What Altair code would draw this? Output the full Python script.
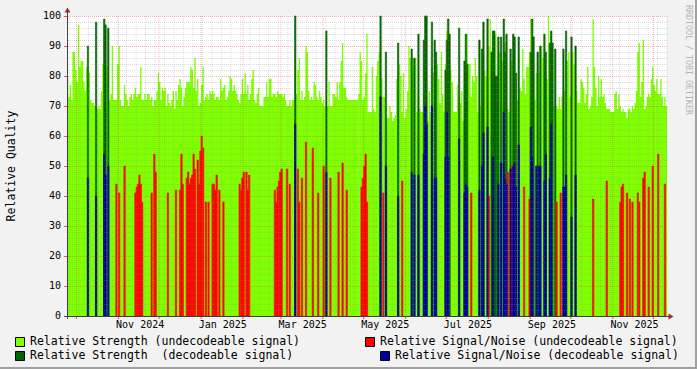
import altair as alt
import pandas as pd
import numpy as np

# ---------------- data (one value per day, first day = start_date) ----------------
start_date = "2024-09-24"
n_days = 443

strength_undec = [
    80,73,77,72,88,88,82,78,97,83, 85,85,78,75,83,83,81,72,71,71,
    70,70,69,70,69,75,84,97,78,83, 96,72,74,90,72,72,72,84,90,72,
    70,70,77,74,72,70,73,74,72,74, 76,73,74,74,83,72,72,74,72,74,
    74,72,73,70,72,72,75,81,78,72, 76,75,
    76,70,74,71,70,72,75,69,75,72, 77,79,76,70,73,76,78,78,78,83,
    82,76,86,75,79,70,71,77,83,72, 73,74,72,75,74,75,74,72,73,73,
    72,79,75,76,77,72,73,75,80,79, 75,77,75,74,72,71,74,79,74,81,
    74,77,72,74,79,82,72,71,74,76, 70,70,70,73,
    73,78,73,79,79,73,74,74,73,75, 74,74,74,73,74,72,70,70,72,70,
    72,72,86,74,82,86,72,75,72,73, 90,88,75,72,73,72,78,77,73,72,
    75,73,71,72,70,70,70,78,70,70, 74,74,73,78,72,78,85,91,76,76,
    73,72,72,
    None,None,None,None,None,None,
    74,88,85,72,73,81,94,
    68,68,68,83,69,68,80,85,88,92, 79,73,73,66,66,66,70,68,65,66,
    67,79,75,84,80,68,81,66,69,75, 90,86,81,86,83,86,68,73,69,68,
    68,74,80,80,65,75,68,83,81,84, 83,84,79,71,88,74,68,84,95,94,
    85,82,78,68,68,68,77,73,71,75, 65,79,81,94,84,
    84,73,80,78,86,80,68,92,70,89, 98,82,80,79,90,99,84,95,95,94,
    80,84,88,
    88,85,88,91,94,69,68,89,85,94, 93,81,72,86,76,75,89,79,74,83,
    83,88,99,93,84,72,81,88,81,90, 90,86,94,79,79,100,79,95,91,70,
    70,70,69,73,69,73,75,75,85,85, 88,
    73,88,88,84,81,75,71,71,79,78, 76,71,74,83,69,70,73,99,83,76,
    70,80,73,79,73,74,71,69,69,69, 68,68,68,74,75,69,74,70,68,69,
    68,68,66,
    69,69,68,70,69,71,75,88,91,73, 78,92,69,70,73,74,73,79,83,77,
    75,79,74,74,79,73,70,73,70,
]

sn_undec_days = [36,38,42,50,51,52,53,54,55,62,64,65,74,80,83,84,85,88,89,90,91,92,93,94,
                 96,97,98,99,100,102,104,107,108,109,110,112,115,127,128,129,130,132,133,134,
                 153,154,155,156,157,158,162,164,170,171,173,176,181,185,189,194,200,203,206,
                 217,218,219,220,221,233,247,298,311,325,328,337,341,361,364,388,398,408,409,
                 410,413,415,417,421,422,425,426,429,432,436,441]
sn_undec_vals = [44,41,50,41,43,44,47,44,38,41,54,48,41,42,42,54,44,46,48,44,46,47,54,49,
                 52,44,55,60,56,38,38,44,44,42,47,42,38,44,42,46,48,48,42,47,
                 42,38,43,45,48,49,49,44,49,38,46,58,56,41,50,46,48,51,42,
                 43,46,50,54,38,41,45,41,40,48,50,43,39,38,41,39,45,38,43,
                 44,41,39,38,41,38,46,48,43,50,54,44]

strength_dec_days = [15,21,27,28,30,168,191,231,235,244,254,256,259,263,264,265,269,271,272,
                     279,280,281,282,289,293,294,295,304,306,307,310,313,314,315,316,317,318,
                     320,322,323,324,327,329,330,331,333,342,343,344,347,349,352,353,356,357,
                     358,360,366,368,372,375]
strength_dec_vals = [90,98,99,97,96,100,95,100,88,91,89,86,94,92,100,100,98,92,88,
                     82,92,99,94,96,85,94,84,92,89,98,99,88,95,95,80,80,93,
                     93,99,88,94,89,94,93,81,93,88,99,93,88,90,94,88,91,95,
                     91,89,89,95,93,90]

sn_dec_days = [15,21,27,28,30,168,191,231,235,244,254,256,259,263,264,265,269,271,272,
               279,280,281,289,293,294,295,304,306,307,310,314,318,320,322,323,324,327,
               329,330,331,333,342,343,346,348,349,352,353,356,357,366,367,368,372,375]
sn_dec_vals = [46,40,54,47,50,64,48,73,50,40,48,47,47,54,70,64,70,46,46,
               53,68,53,59,41,44,43,42,50,61,63,53,44,51,68,46,44,49,
               50,51,43,57,63,53,50,50,50,45,54,46,64,43,43,47,33,47]

y_tick_values = [0, 10, 20, 30, 40, 50, 60, 70, 80, 90, 100]
month_labels = ["Nov 2024", "Jan 2025", "Mar 2025", "May 2025", "Jul 2025", "Sep 2025", "Nov 2025"]
y_title = "Relative Quality"
watermark = "RRDTOOL / TOBI OETIKER"
legend_texts = ["Relative Strength (undecodeable signal)",
                "Relative Signal/Noise (undecodeable signal)",
                "Relative Strength \u00a0(decodeable signal)",
                "Relative Signal/Noise (decodeable signal)"]
legend_colors = ["#80ff00", "#ff0000", "#006400", "#0000a0"]

# ---------------- derived tables ----------------
FONT = "DejaVu Sans Mono"
W, H = 600, 300
start = pd.Timestamp(start_date)

sv = pd.Series(strength_undec, dtype="float")
base = pd.DataFrame({"day": np.arange(len(sv)), "val": sv})
base["seg"] = base["val"].isna().cumsum()
parts = []
for s, g in base[base["val"].notna()].groupby("seg"):
    parts.append(g)
    last = g.iloc[-1]
    parts.append(pd.DataFrame({"day": [last["day"] + 1], "val": [last["val"]], "seg": [s]}))
area_df = pd.concat(parts, ignore_index=True)


def bars(days, vals):
    d = np.array(days)
    return pd.DataFrame({"day": d, "day_end": d + 1, "val": vals})


end = start + pd.Timedelta(days=n_days)
month_starts = pd.date_range(start + pd.Timedelta(days=1), end, freq="MS")
major_x = pd.DataFrame({"day": [(m - start).days for m in month_starts]})
thursdays = pd.date_range(start, end, freq="W-THU")
minor_x = pd.DataFrame({"day": [(t - start).days for t in thursdays
                                if (t - start).days not in set(major_x["day"])]})
minor_y = pd.DataFrame({"v": [v for v in range(2, 100, 2) if v % 10]})
major_y = pd.DataFrame({"v": [v for v in y_tick_values if v > 0]})
ytick_df = pd.DataFrame({"v": y_tick_values, "t": [str(v) for v in y_tick_values]})
lab_dates = [pd.to_datetime(l, format="%b %Y") for l in month_labels]
xlab_df = pd.DataFrame({"day": [(d - start).days + 16 for d in lab_dates], "t": month_labels})

xs = alt.Scale(domain=[0, n_days], nice=False, zero=False)
ys = alt.Scale(domain=[0, 100], nice=False, zero=True)


def X(f="day:Q"):
    return alt.X(f, scale=xs, axis=None)


def Y(f):
    return alt.Y(f, scale=ys, axis=None)


one = pd.DataFrame({"k": [0]})

layers = []
# data
layers.append(alt.Chart(area_df).mark_area(interpolate="step-after", color="#80ff00")
              .encode(x=X(), y=Y("val:Q"), detail="seg:N"))
for df, col in [(bars(strength_dec_days, strength_dec_vals), "#006400"),
                (bars(sn_undec_days, sn_undec_vals), "#ff0000"),
                (bars(sn_dec_days, sn_dec_vals), "#0000a0")]:
    layers.append(alt.Chart(df).mark_rect(color=col, stroke=col, strokeWidth=0.6)
                  .encode(x=X(), x2="day_end:Q", y=Y("val:Q"), y2=alt.datum(0)))

# grid (drawn over the data, dotted)
layers.append(alt.Chart(minor_x).mark_rule(color="#8f8f8f", opacity=0.3, strokeDash=[1, 1])
              .encode(x=X()))
layers.append(alt.Chart(minor_y).mark_rule(color="#8f8f8f", opacity=0.3, strokeDash=[1, 1], yOffset=0.5)
              .encode(y=Y("v:Q")))
layers.append(alt.Chart(major_x).mark_rule(color="#df3030", opacity=0.35, strokeDash=[1, 1])
              .encode(x=X()))
layers.append(alt.Chart(major_y).mark_rule(color="#df3030", opacity=0.35, strokeDash=[1, 1], yOffset=0.5)
              .encode(y=Y("v:Q")))

# ticks
layers.append(alt.Chart(major_x).mark_rule(color="#df3030", opacity=0.8)
              .encode(x=X(), y=alt.value(H), y2=alt.value(H + 3)))
layers.append(alt.Chart(ytick_df).mark_rule(color="#df3030", opacity=0.8, yOffset=0.5)
              .encode(y=Y("v:Q"), x=alt.value(-3), x2=alt.value(0)))

# axes lines and arrows
AX = "#404040"
layers.append(alt.Chart(one).mark_rule(color=AX, strokeWidth=1)
              .encode(x=alt.value(0.5), y=alt.value(-5), y2=alt.value(H + 3)))
layers.append(alt.Chart(one).mark_rule(color=AX, strokeWidth=1)
              .encode(x=alt.value(-3), x2=alt.value(W + 2), y=alt.value(H + 0.5)))
layers.append(alt.Chart(one).mark_point(shape="triangle-up", filled=True, size=34, color="#a02828", opacity=1)
              .encode(x=alt.value(0.5), y=alt.value(-6)))
layers.append(alt.Chart(one).mark_point(shape="triangle-right", filled=True, size=34, color="#a02828", opacity=1)
              .encode(x=alt.value(W + 4), y=alt.value(H + 0.5)))

# axis labels
layers.append(alt.Chart(ytick_df).mark_text(font=FONT, fontSize=10, align="right", baseline="middle", color="black")
              .encode(y=Y("v:Q"), x=alt.value(-6), text="t:N"))
layers.append(alt.Chart(xlab_df).mark_text(font=FONT, fontSize=10, align="center", baseline="alphabetic", color="black")
              .encode(x=X(), y=alt.value(H + 12), text="t:N"))
layers.append(alt.Chart(pd.DataFrame({"t": [y_title]}))
              .mark_text(font=FONT, fontSize=11.5, angle=270, align="center", baseline="middle", color="black")
              .encode(x=alt.value(-55), y=alt.value(150), text="t:N"))
layers.append(alt.Chart(pd.DataFrame({"t": [watermark]}))
              .mark_text(font=FONT, fontSize=8.3, angle=90, align="left", baseline="middle", color="#b4b4b4")
              .encode(x=alt.value(620.5), y=alt.value(-11), text="t:N"))

# legend
sw = [(-52, 321), (298, 321), (-52, 335), (313, 335)]
for (sx, sy), txt, col in zip(sw, legend_texts, legend_colors):
    layers.append(alt.Chart(one).mark_rect(fill=col, stroke="black", strokeWidth=1)
                  .encode(x=alt.value(sx + 0.5), x2=alt.value(sx + 9.5),
                          y=alt.value(sy + 0.5), y2=alt.value(sy + 9.5)))
    layers.append(alt.Chart(pd.DataFrame({"t": [txt]}))
                  .mark_text(font=FONT, fontSize=11.5, align="left", baseline="middle", color="black")
                  .encode(x=alt.value(sx + 15), y=alt.value(sy + 5), text="t:N"))

# frame shade (bottom/right)
layers.append(alt.Chart(one).mark_rule(color="#a0a0a0", strokeWidth=2)
              .encode(x=alt.value(629), y=alt.value(-16), y2=alt.value(353)))
layers.append(alt.Chart(one).mark_rule(color="#a0a0a0", strokeWidth=2)
              .encode(x=alt.value(-67), x2=alt.value(630), y=alt.value(352)))

chart = (alt.layer(*layers)
         .properties(width=W, height=H,
                     autosize=alt.AutoSizeParams(type="none"),
                     padding={"left": 67, "top": 16, "right": 30, "bottom": 53},
                     background="#f2f2f2")
         .configure_view(fill="white", strokeWidth=0))

chart.save("out.html", embed_options={"renderer": "svg", "actions": False})
